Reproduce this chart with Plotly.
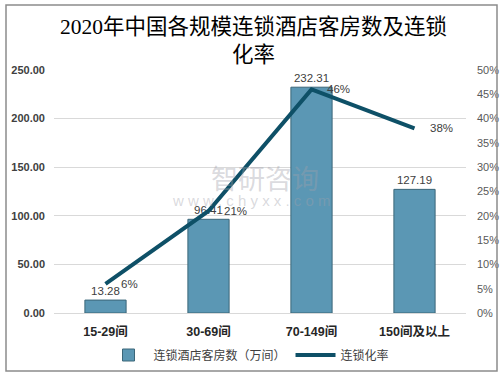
import plotly.graph_objects as go

categories = ["15-29间", "30-69间", "70-149间", "150间及以上"]
rooms = [13.28, 96.41, 232.31, 127.19]
rates = [0.06, 0.21, 0.46, 0.38]
rate_labels = ["6%", "21%", "46%", "38%"]
title_text = "2020年中国各规模连锁酒店客房数及连锁<br>化率"
bar_name = "连锁酒店客房数（万间）"
line_name = "连锁化率"

W, H = 504, 376
L, R, T, B = 54, 38, 70, 63
pw, ph = W - L - R, H - T - B

def px_x(x):
    return (x - L) / pw

def px_y(y):
    return (H - B - y) / ph

fig = go.Figure()
fig.add_trace(go.Bar(
    x=categories, y=rooms, name=bar_name,
    marker=dict(color="#5b97b4", line=dict(color="#3b6679", width=1)),
    text=[f"{v:.2f}" for v in rooms], textposition="outside",
    textfont=dict(family="Liberation Sans, Noto Sans CJK SC", size=11.5, color="#404040"),
    cliponaxis=False,
))
fig.add_trace(go.Scatter(
    x=categories, y=rates, name=line_name, yaxis="y2", mode="lines",
    line=dict(color="#0e5067", width=4),
    cliponaxis=False,
))

rate_annots = [
    dict(text=t, x=c, y=v, xref="x", yref="y2", xanchor="left", yanchor="middle",
         xshift=13, showarrow=False,
         font=dict(family="Liberation Sans", size=11.5, color="#404040"))
    for c, v, t in zip(categories, rates, rate_labels)
]

fig.update_layout(
    width=W, height=H,
    margin=dict(l=L, r=R, t=T, b=B, autoexpand=False),
    paper_bgcolor="white", plot_bgcolor="white",
    bargap=0.6,
    xaxis=dict(showgrid=False, showline=True, linecolor="#d9d9d9",
               tickfont=dict(family="Liberation Sans, Noto Sans CJK SC", size=12.5,
                             color="#262626", weight="bold"),
               ticks="", automargin=False, ticklabelstandoff=7),
    yaxis=dict(range=[0, 250], dtick=50, tickformat=".2f", showgrid=True, gridcolor="#d9d9d9",
               zeroline=False, automargin=False, ticklabelstandoff=8,
               tickfont=dict(family="Liberation Sans", size=11, color="#404040", weight="bold")),
    yaxis2=dict(range=[0, 0.5], dtick=0.05, tickformat=".0%", overlaying="y", side="right",
                showgrid=False, zeroline=False, automargin=False, ticklabelstandoff=10,
                tickfont=dict(family="Liberation Sans", size=11, color="#595959")),
    legend=dict(orientation="h", x=px_x(249), xanchor="center", y=px_y(355), yanchor="middle",
                font=dict(family="Noto Sans CJK SC", size=12, color="#404040"),
                traceorder="normal", itemwidth=40),
    showlegend=True,
    shapes=[dict(type="rect", xref="paper", yref="paper",
                 x0=px_x(6), x1=px_x(497), y0=px_y(371), y1=px_y(5),
                 line=dict(color="#8c8c8c", width=1.5), fillcolor="rgba(0,0,0,0)", layer="above")],
    annotations=[
        dict(text=title_text, xref="paper", yref="paper", x=px_x(253), y=px_y(13),
             xanchor="center", yanchor="top", showarrow=False,
             font=dict(family="Liberation Serif, Noto Sans CJK SC",
                       size=21.5, color="#000000")),
        dict(text="智研咨询", xref="paper", yref="paper", x=px_x(265), y=px_y(177), showarrow=False,
             font=dict(family="Noto Sans CJK SC", size=27, color="rgba(160,160,170,0.4)")),
        dict(text="w w w . c h y x x . c o m", xref="paper", yref="paper", x=px_x(251), y=px_y(200),
             showarrow=False,
             font=dict(family="Liberation Sans", size=15, color="rgba(160,160,170,0.4)")),
    ] + rate_annots,
)

fig.write_html("out.html", config={"displayModeBar": False},
               post_script="document.body.style.margin='0';document.body.style.padding='0';")
